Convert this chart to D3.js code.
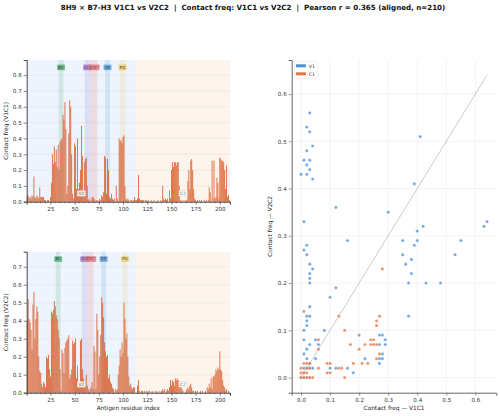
<!DOCTYPE html>
<html>
<head>
<meta charset="utf-8">
<script src="https://cdn.jsdelivr.net/npm/d3@7"></script>
<style>
body { margin: 0; background: #fff; }
svg { display: block; font-family: "DejaVu Sans", sans-serif; }
</style>
</head>
<body>
<script>
"use strict";
// contact frequency per antigen residue (1..210)
const v1c1 = [
	0.03, 0.04, 0.02, 0.03, 0.02, 0.04, 0.03, 0.16, 0.03, 0.02,
	0.04, 0.03, 0.02, 0.09, 0.03, 0.03, 0.03, 0.03, 0.01, 0.01,
	0.00, 0.01, 0.01, 0.00, 0.03, 0.12, 0.30, 0.24, 0.35, 0.25,
	0.33, 0.22, 0.36, 0.20, 0.38, 0.39, 0.40, 0.55, 0.52, 0.63,
	0.46, 0.05, 0.10, 0.43, 0.64, 0.60, 0.30, 0.05, 0.02, 0.37,
	0.35, 0.08, 0.40, 0.08, 0.12, 0.20, 0.48, 0.29, 0.05, 0.25,
	0.27, 0.28, 0.10, 0.01, 0.02, 0.00, 0.01, 0.03, 0.03, 0.02,
	0.01, 0.00, 0.01, 0.01, 0.00, 0.02, 0.01, 0.04, 0.03, 0.06,
	0.29, 0.28, 0.05, 0.27, 0.20, 0.03, 0.02, 0.05, 0.02, 0.01,
	0.02, 0.00, 0.10, 0.02, 0.00, 0.40, 0.38, 0.39, 0.37, 0.41,
	0.42, 0.10, 0.02, 0.01, 0.02, 0.01, 0.00, 0.01, 0.01, 0.00,
	0.01, 0.03, 0.01, 0.01, 0.02, 0.17, 0.02, 0.01, 0.01, 0.01,
	0.01, 0.00, 0.01, 0.01, 0.00, 0.01, 0.00, 0.00, 0.01, 0.00,
	0.00, 0.01, 0.00, 0.00, 0.00, 0.01, 0.00, 0.00, 0.01, 0.00,
	0.10, 0.02, 0.01, 0.02, 0.01, 0.02, 0.00, 0.07, 0.02, 0.20,
	0.25, 0.22, 0.25, 0.25, 0.23, 0.25, 0.25, 0.10, 0.01, 0.00,
	0.01, 0.00, 0.01, 0.00, 0.01, 0.01, 0.13, 0.20, 0.08, 0.26,
	0.27, 0.20, 0.08, 0.02, 0.01, 0.00, 0.01, 0.00, 0.01, 0.00,
	0.01, 0.00, 0.00, 0.01, 0.00, 0.01, 0.00, 0.01, 0.09, 0.06,
	0.00, 0.26, 0.02, 0.26, 0.02, 0.03, 0.15, 0.12, 0.02, 0.28,
	0.27, 0.26, 0.26, 0.25, 0.20, 0.08, 0.23, 0.03, 0.04, 0.01
];
const v2c2 = [
	0.40, 0.52, 0.41, 0.39, 0.35, 0.24, 0.49, 0.56, 0.30, 0.41,
	0.48, 0.45, 0.20, 0.12, 0.11, 0.05, 0.03, 0.06, 0.05, 0.03,
	0.20, 0.19, 0.21, 0.13, 0.09, 0.45, 0.44, 0.46, 0.51, 0.48,
	0.43, 0.41, 0.35, 0.30, 0.13, 0.01, 0.24, 0.22, 0.11, 0.25,
	0.28, 0.29, 0.30, 0.32, 0.08, 0.10, 0.13, 0.29, 0.27, 0.28,
	0.30, 0.08, 0.15, 0.03, 0.05, 0.29, 0.30, 0.13, 0.08, 0.04,
	0.06, 0.10, 0.04, 0.02, 0.01, 0.02, 0.03, 0.06, 0.02, 0.26,
	0.23, 0.02, 0.44, 0.35, 0.10, 0.20, 0.32, 0.53, 0.50, 0.42,
	0.28, 0.23, 0.20, 0.21, 0.08, 0.10, 0.06, 0.05, 0.03, 0.02,
	0.00, 0.02, 0.01, 0.02, 0.10, 0.15, 0.24, 0.20, 0.28, 0.22,
	0.50, 0.41, 0.30, 0.33, 0.20, 0.09, 0.04, 0.05, 0.03, 0.02,
	0.03, 0.03, 0.00, 0.00, 0.04, 0.07, 0.01, 0.00, 0.01, 0.01,
	0.00, 0.01, 0.00, 0.01, 0.00, 0.01, 0.01, 0.00, 0.00, 0.01,
	0.00, 0.00, 0.01, 0.00, 0.01, 0.00, 0.00, 0.01, 0.00, 0.01,
	0.02, 0.01, 0.02, 0.00, 0.01, 0.02, 0.01, 0.03, 0.07, 0.04,
	0.07, 0.06, 0.04, 0.08, 0.07, 0.08, 0.07, 0.05, 0.06, 0.04,
	0.02, 0.01, 0.00, 0.00, 0.01, 0.02, 0.03, 0.02, 0.04, 0.05,
	0.03, 0.01, 0.01, 0.00, 0.01, 0.00, 0.01, 0.00, 0.00, 0.01,
	0.00, 0.01, 0.00, 0.00, 0.01, 0.00, 0.03, 0.02, 0.05, 0.03,
	0.08, 0.02, 0.09, 0.09, 0.10, 0.13, 0.12, 0.14, 0.13, 0.23,
	0.13, 0.12, 0.07, 0.04, 0.03, 0.01, 0.02, 0.00, 0.01, 0.00
];
const domainNames = ["V2", "C2"];
const domainStart = [1, 114];
const domainEnd = [113, 210];
const loopNames = ["BC", "CC'", "C'C''", "DE", "FG"];
const loopStartV1C1 = [34, 61, 67, 82, 97];
const loopEndV1C1 = [38, 66, 73, 86, 102];
const loopStartV2C2 = [31, 58, 64, 78, 100];
const loopEndV2C2 = [35, 63, 69, 82, 104];
const xTicks = [25, 50, 75, 100, 125, 150, 175, 200];
// aligned pairs (V1C1 freq, V2C2 freq)
const v1X = [0.03, 0.02, 0.03, 0.04, 0.02, 0.01, 0.03, 0.02, 0.03, 0.00, 0.02, 0.04,
	0.41, 0.39, 0.12, 0.30, 0.01, 0.42, 0.63, 0.64,
	0.01, 0.02, 0.02, 0.16, 0.03, 0.04, 0.03, 0.03, 0.03, 0.12, 0.10, 0.03, 0.02, 0.03, 0.02, 0.02, 0.01, 0.01, 0.05, 0.08, 0.06, 0.03, 0.02, 0.01, 0.05, 0.02,
	0.20, 0.22, 0.28, 0.27, 0.29, 0.29, 0.27, 0.28, 0.27, 0.28, 0.27,
	0.35, 0.35, 0.36, 0.37, 0.37, 0.38, 0.38, 0.39, 0.40, 0.40, 0.43, 0.48, 0.53, 0.55,
	0.00, 0.01, 0.02, 0.03, 0.01, 0.04, 0.10, 0.12, 0.16, 0.18, 0.03, 0.02, 0.03];
const v1Y = [0.56, 0.53, 0.52, 0.49, 0.48, 0.46, 0.46, 0.45, 0.44, 0.43, 0.43, 0.42,
	0.51, 0.41, 0.36, 0.35, 0.33, 0.32, 0.32, 0.33,
	0.27, 0.28, 0.26, 0.29, 0.24, 0.23, 0.22, 0.21, 0.20, 0.19, 0.17, 0.15, 0.13, 0.13, 0.12, 0.11, 0.10, 0.08, 0.08, 0.10, 0.07, 0.07, 0.06, 0.05, 0.04, 0.04,
	0.09, 0.04, 0.09, 0.09, 0.08, 0.07, 0.07, 0.05, 0.04, 0.04, 0.03,
	0.29, 0.26, 0.24, 0.20, 0.13, 0.25, 0.22, 0.28, 0.29, 0.31, 0.20, 0.20, 0.26, 0.29,
	0.00, 0.00, 0.00, 0.00, 0.02, 0.02, 0.02, 0.02, 0.02, 0.01, 0.03, 0.02, 0.02];
const c1X = [0.28, 0.27, 0.26, 0.26, 0.13, 0.15, 0.01, 0.06, 0.06, 0.17, 0.20, 0.22, 0.24, 0.25, 0.24, 0.25, 0.26, 0.27, 0.26,
	0.21, 0.23, 0.18, 0.09, 0.10, 0.09, 0.10, 0.06, 0.13, 0.14, 0.15,
	0.00, 0.01, 0.02, 0.03, 0.04, 0.00, 0.01, 0.02, 0.00, 0.02, 0.03, 0.01, 0.02, 0.03, 0.01];
const c1Y = [0.23, 0.13, 0.12, 0.11, 0.13, 0.10, 0.14, 0.08, 0.06, 0.07, 0.06, 0.07, 0.08, 0.08, 0.07, 0.07, 0.07, 0.05, 0.04,
	0.03, 0.03, 0.03, 0.03, 0.03, 0.01, 0.01, 0.02, 0.02, 0.02, 0.00,
	0.00, 0.00, 0.00, 0.00, 0.00, 0.01, 0.01, 0.01, 0.02, 0.02, 0.02, 0.03, 0.03, 0.03, 0.01];

const title = "8H9 \u00d7 B7-H3 V1C1 vs V2C2  |  Contact freq: V1C1 vs V2C2  |  Pearson r = 0.365 (aligned, n=210)";
const barColor = "#d95f2e";
const domainFill = ["#edf4fd", "#fdf4ec"];
const loopColors = ["#5db37f", "#a283d6", "#e77b82", "#64a3df", "#eccd6c"];
const seriesColors = ["#4a8fdc", "#e27645"];

const svg = d3.select("body").append("svg").attr("width", 500).attr("height", 416);

svg.append("text").attr("x", 253).attr("y", 9.5).attr("text-anchor", "middle")
	.style("white-space", "pre")
	.attr("font-weight", "bold").attr("font-size", 7.1).attr("fill", "#111").text(title);

function barPanel(values, loopStart, loopEnd, top, bottom, yLabel, xLabel) {
	const left = 26.7, right = 230;
	const x = d3.scaleLinear().domain([0.5, 210.5]).range([left, right]);
	const y = d3.scaleLinear().domain([0, d3.max(values) * 1.4]).range([bottom, top]);
	const g = svg.append("g");
	g.selectAll(".dom").data(domainNames).join("rect").attr("class", "dom")
		.attr("x", (d, i) => x(domainStart[i] - 0.5))
		.attr("width", (d, i) => x(domainEnd[i] + 0.5) - x(domainStart[i] - 0.5))
		.attr("y", top).attr("height", bottom - top)
		.attr("fill", (d, i) => domainFill[i]);
	g.selectAll(".grid").data(y.ticks(8)).join("line").attr("class", "grid")
		.attr("x1", left).attr("x2", right)
		.attr("y1", d => y(d)).attr("y2", d => y(d))
		.attr("stroke", "#e6e2e0").attr("stroke-width", 0.6);
	g.selectAll(".band").data(loopNames).join("rect").attr("class", "band")
		.attr("x", (d, i) => x(loopStart[i] - 0.5))
		.attr("width", (d, i) => x(loopEnd[i] + 0.5) - x(loopStart[i] - 0.5))
		.attr("y", top).attr("height", bottom - top)
		.attr("fill", (d, i) => loopColors[i]).attr("opacity", 0.2);
	g.selectAll(".bar").data(values).join("rect").attr("class", "bar")
		.attr("x", (d, i) => x(i + 1 - 0.43))
		.attr("width", x(0.86) - x(0))
		.attr("y", d => y(d))
		.attr("height", d => bottom - y(d))
		.attr("fill", barColor);
	// loop labels
	loopNames.forEach((name, i) => {
		const cx = x((loopStart[i] + loopEnd[i]) / 2);
		const t = g.append("text").attr("x", cx).attr("y", top + 8.7)
			.attr("text-anchor", "middle").attr("font-size", 4).attr("fill", "#333").text(name);
		const w = t.node().getComputedTextLength() + 2.4;
		g.insert("rect", () => t.node()).attr("x", cx - w / 2).attr("y", top + 4.6)
			.attr("width", w).attr("height", 5.6).attr("rx", 1)
			.attr("fill", loopColors[i]).attr("opacity", 0.85);
	});
	// domain labels
	domainNames.forEach((name, i) => {
		const cx = x((domainStart[i] + domainEnd[i]) / 2);
		const t = g.append("text").attr("x", cx).attr("y", bottom - 6.8)
			.attr("text-anchor", "middle").attr("font-size", 4.4).attr("fill", "#666").text(name);
		const w = t.node().getComputedTextLength() + 2.6;
		g.insert("rect", () => t.node()).attr("x", cx - w / 2).attr("y", bottom - 11.2)
			.attr("width", w).attr("height", 5.8).attr("rx", 0.8)
			.attr("fill", "#fff").attr("fill-opacity", 0.85).attr("stroke", "#ccc").attr("stroke-width", 0.4);
	});
	const yAxis = g.append("g").attr("transform", "translate(" + left + ",0)")
		.call(d3.axisLeft(y).ticks(8).tickFormat(d3.format(".1f")).tickSize(3).tickPadding(2));
	const minor = d3.range(5, 211, 5).filter(d => xTicks.indexOf(d) < 0);
	g.selectAll(".minor").data(minor).join("line").attr("class", "minor")
		.attr("x1", d => x(d)).attr("x2", d => x(d))
		.attr("y1", bottom).attr("y2", bottom + 1.6)
		.attr("stroke", "#444").attr("stroke-width", 0.5);
	const xAxis = g.append("g").attr("transform", "translate(0," + bottom + ")")
		.call(d3.axisBottom(x).tickValues(xTicks).tickSize(3).tickPadding(2));
	[xAxis, yAxis].forEach(a => {
		a.selectAll("text").attr("font-size", 5.6).attr("font-family", "DejaVu Sans").attr("fill", "#333");
		a.selectAll("line").attr("stroke", "#333").attr("stroke-width", 0.6);
		a.select(".domain").attr("stroke", "#333").attr("stroke-width", 0.9);
	});
	g.append("text").attr("transform", "translate(8," + ((top + bottom) / 2) + ") rotate(-90)")
		.attr("text-anchor", "middle").attr("font-size", 5.8).attr("fill", "#222").text(yLabel);
	if (xLabel) {
		g.append("text").attr("x", (left + right) / 2).attr("y", bottom + 17.5)
			.attr("text-anchor", "middle").attr("font-size", 5.8).attr("fill", "#222").text(xLabel);
	}
}

barPanel(v1c1, loopStartV1C1, loopEndV1C1, 60, 201.7, "Contact freq (V1C1)", null);
barPanel(v2c2, loopStartV2C2, loopEndV2C2, 251.7, 392.7, "Contact freq (V2C2)", "Antigen residue index");

// scatter
function scatterPanel() {
	const left = 291.7, right = 496.3, top = 60, bottom = 392.7;
	const m = d3.max([d3.max(v1X), d3.max(v1Y), d3.max(c1X), d3.max(c1Y)]);
	const sx = d3.scaleLinear().domain([-0.05 * m, 1.05 * m]).range([left, right]);
	const sy = d3.scaleLinear().domain([-0.05 * m, 1.05 * m]).range([bottom, top]);
	const g = svg.append("g");
	const ticks = sx.ticks(7);
	g.selectAll(".gx").data(ticks).join("line").attr("class", "gx")
		.attr("x1", d => sx(d)).attr("x2", d => sx(d)).attr("y1", top).attr("y2", bottom)
		.attr("stroke", "#ececec").attr("stroke-width", 0.6);
	g.selectAll(".gy").data(ticks).join("line").attr("class", "gy")
		.attr("y1", d => sy(d)).attr("y2", d => sy(d)).attr("x1", left).attr("x2", right)
		.attr("stroke", "#ececec").attr("stroke-width", 0.6);
	g.append("line").attr("x1", sx(0)).attr("y1", sy(0)).attr("x2", sx(m)).attr("y2", sy(m))
		.attr("stroke", "#aaa").attr("stroke-width", 0.6);
	const series = [[v1X, v1Y], [c1X, c1Y]];
	series.forEach((s, k) => {
		g.selectAll(".pt" + k).data(s[0]).join("circle").attr("class", "pt" + k)
			.attr("cx", d => sx(d)).attr("cy", (d, i) => sy(s[1][i]))
			.attr("r", 1.6).attr("fill", seriesColors[k]).attr("fill-opacity", 0.8)
			.attr("stroke", "#fff").attr("stroke-width", 0.3);
	});
	const xAxis = g.append("g").attr("transform", "translate(0," + bottom + ")")
		.call(d3.axisBottom(sx).ticks(7).tickFormat(d3.format(".1f")).tickSize(3).tickPadding(2));
	const yAxis = g.append("g").attr("transform", "translate(" + left + ",0)")
		.call(d3.axisLeft(sy).ticks(7).tickFormat(d3.format(".1f")).tickSize(3).tickPadding(2));
	[xAxis, yAxis].forEach(a => {
		a.selectAll("text").attr("font-size", 5.6).attr("font-family", "DejaVu Sans").attr("fill", "#333");
		a.selectAll("line").attr("stroke", "#555").attr("stroke-width", 0.6);
		a.select(".domain").attr("stroke", "#666").attr("stroke-width", 1);
	});
	g.append("text").attr("x", (left + right) / 2).attr("y", bottom + 17.5)
		.attr("text-anchor", "middle").attr("font-size", 5.8).attr("fill", "#222").text("Contact freq \u2014 V1C1");
	g.append("text").attr("transform", "translate(272," + ((top + bottom) / 2) + ") rotate(-90)")
		.attr("text-anchor", "middle").attr("font-size", 5.8).attr("fill", "#222").text("Contact freq \u2014 V2C2");
	// legend
	const lg = g.append("g").attr("transform", "translate(294.3,61.3)");
	lg.append("rect").attr("width", 23.5).attr("height", 17).attr("rx", 1)
		.attr("fill", "#fff").attr("fill-opacity", 0.85).attr("stroke", "#ddd").attr("stroke-width", 0.5);
	["V1", "C1"].forEach((name, k) => {
		lg.append("rect").attr("x", 1.6).attr("y", 3 + k * 8).attr("width", 10).attr("height", 3)
			.attr("fill", seriesColors[k]);
		lg.append("text").attr("x", 14.5).attr("y", 6.3 + k * 8).attr("font-size", 4.6)
			.attr("fill", "#222").text(name);
	});
}
scatterPanel();
</script>
</body>
</html>
